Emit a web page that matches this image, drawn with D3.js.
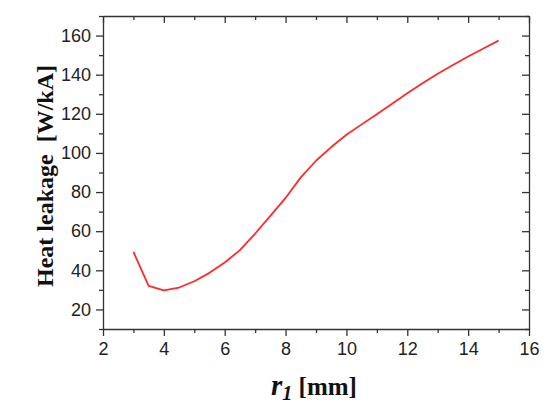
<!DOCTYPE html>
<html>
<head>
<meta charset="utf-8">
<script src="https://cdn.jsdelivr.net/npm/d3@7"></script>
<style>
  html, body { margin: 0; padding: 0; background: #fff; }
  svg { display: block; }
  .tick text { font-family: "Liberation Sans", Arial, sans-serif; font-size: 18px; fill: #222; }
  .domain, .tick line { stroke: #333; stroke-width: 1.3px; }
  .title { font-family: "Liberation Serif", "Times New Roman", serif; font-weight: bold; font-size: 24px; fill: #111; }
</style>
</head>
<body>
<svg id="chart" width="550" height="409"></svg>
<script>
const r1 = [3, 3.5, 4, 4.5, 5, 5.5, 6, 6.5, 7, 7.5, 8, 8.5, 9, 9.5, 10, 10.5, 11, 11.5, 12, 12.5, 13, 13.5, 14, 14.5, 15];
const heatLeakage = [49.4, 32.0, 29.7, 31.2, 34.4, 38.7, 44.0, 50.3, 58.8, 67.8, 77.0, 87.5, 96.0, 103.0, 109.3, 114.6, 119.8, 125.2, 130.5, 135.6, 140.5, 145.0, 149.3, 153.4, 157.4];
const xMajorTicks = [2, 4, 6, 8, 10, 12, 14, 16];
const xMinorTicks = [3, 5, 7, 9, 11, 13, 15];
const yMajorTicks = [20, 40, 60, 80, 100, 120, 140, 160];
const yMinorTicks = [10, 30, 50, 70, 90, 110, 130, 150, 170];

const svg = d3.select("#chart");
const m = { left: 103, right: 529, top: 16, bottom: 329 };

const x = d3.scaleLinear().domain([2, 16]).range([m.left, m.right]);
const y = d3.scaleLinear().domain([10, 170]).range([m.bottom, m.top]);

const MAJ = 7, MIN = 4;

// bottom
svg.append("g").attr("transform", `translate(0,${m.bottom})`)
  .call(d3.axisBottom(x).tickValues(xMajorTicks).tickSize(MAJ).tickSizeOuter(0).tickPadding(6).tickFormat(d3.format("d")));
svg.append("g").attr("transform", `translate(0,${m.bottom})`)
  .call(d3.axisBottom(x).tickValues(xMinorTicks).tickSize(MIN).tickFormat(""))
  .select(".domain").remove();
// top
svg.append("g").attr("transform", `translate(0,${m.top})`)
  .call(d3.axisTop(x).tickValues(xMajorTicks).tickSize(-MAJ).tickSizeOuter(0).tickFormat(""));
svg.append("g").attr("transform", `translate(0,${m.top})`)
  .call(d3.axisTop(x).tickValues(xMinorTicks).tickSize(-MIN).tickFormat(""))
  .select(".domain").remove();
// left
svg.append("g").attr("transform", `translate(${m.left},0)`)
  .call(d3.axisLeft(y).tickValues(yMajorTicks).tickSize(MAJ).tickSizeOuter(0).tickPadding(5).tickFormat(d3.format("d")));
svg.append("g").attr("transform", `translate(${m.left},0)`)
  .call(d3.axisLeft(y).tickValues(yMinorTicks).tickSize(MIN).tickFormat(""))
  .select(".domain").remove();
// right
svg.append("g").attr("transform", `translate(${m.right},0)`)
  .call(d3.axisRight(y).tickValues(yMajorTicks).tickSize(-MAJ).tickSizeOuter(0).tickFormat(""));
svg.append("g").attr("transform", `translate(${m.right},0)`)
  .call(d3.axisRight(y).tickValues(yMinorTicks).tickSize(-MIN).tickFormat(""))
  .select(".domain").remove();

// line
const line = d3.line().x((d, i) => x(r1[i])).y(d => y(d));
svg.append("path")
  .datum(heatLeakage)
  .attr("d", line)
  .attr("fill", "none")
  .attr("stroke", "#ff2a2a")
  .attr("stroke-width", 1.8)
  .attr("stroke-linejoin", "round");

// y title
svg.append("text")
  .attr("class", "title")
  .attr("transform", `translate(53,176) rotate(-90)`)
  .attr("text-anchor", "middle")
  .attr("xml:space", "preserve")
  .text("Heat leakage  [W/kA]");

// x title
const xt = svg.append("text")
  .attr("class", "title")
  .attr("x", 314)
  .attr("y", 395)
  .attr("text-anchor", "middle");
xt.append("tspan").attr("font-style", "italic").attr("font-size", "29px").text("r");
xt.append("tspan").attr("font-style", "italic").attr("font-size", "20px").attr("dy", 5).text("1");
xt.append("tspan").attr("dy", -5).attr("font-size", "25px").text(" [mm]");
</script>
</body>
</html>
